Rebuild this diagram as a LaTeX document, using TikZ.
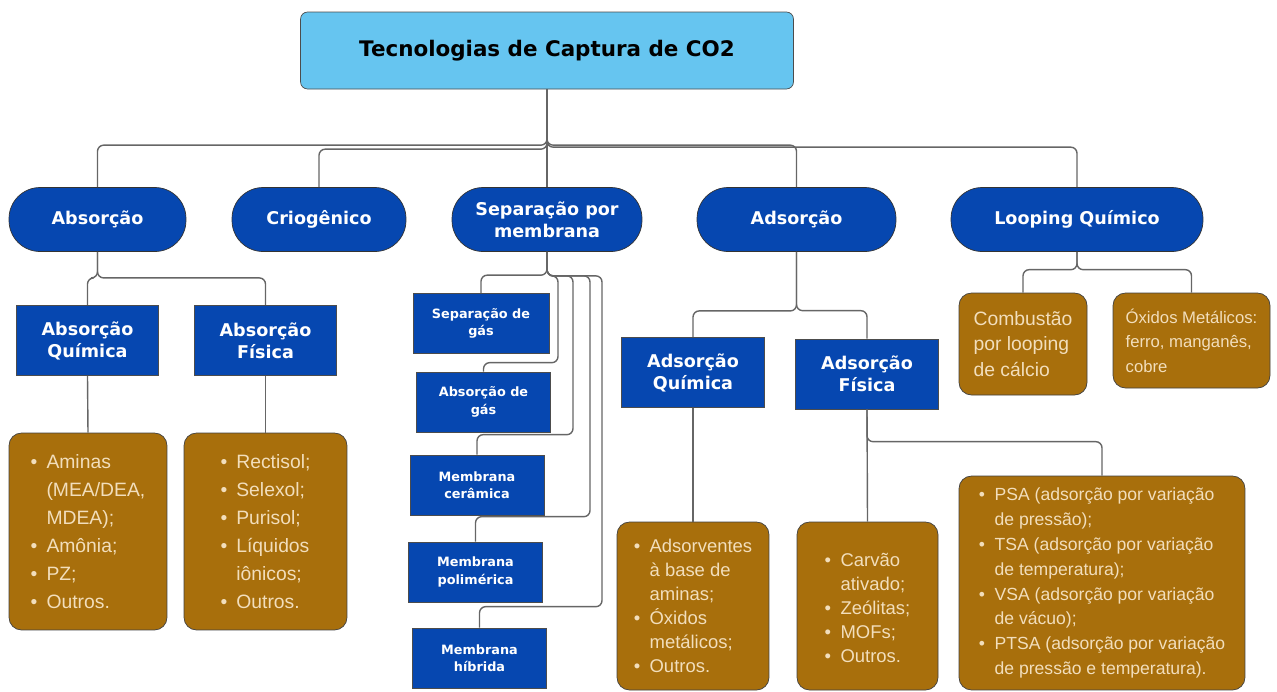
\documentclass[tikz,border=0pt]{standalone}
\usepackage{fontspec}
\setmainfont{Liberation Sans}
\newfontfamily\headfont{DejaVu Sans}
\usepackage{tikz}
\usetikzlibrary{calc}

\definecolor{titlecol}{RGB}{102,197,240}
\definecolor{bluecol}{RGB}{6,71,176}
\definecolor{leafcol}{RGB}{168,111,12}
\definecolor{leaftxt}{RGB}{242,222,188}

\newcommand{\bl}{\makebox[9pt][l]{\textbullet}}
\newcommand{\nb}{\hspace*{9pt}}

\begin{document}
\begin{tikzpicture}[
x=0.02cm, y=-0.02cm,
title/.style={draw=black!70, fill=titlecol, rounded corners=4pt, minimum width=98.6mm, minimum height=15.4mm, font=\headfont\bfseries\fontsize{12.2}{14}\selectfont},
pill/.style={draw=black!80, fill=bluecol, text=white, rounded corners=6.2mm, minimum height=12.8mm, align=center, font=\headfont\bfseries\fontsize{10}{12.5}\selectfont},
sub/.style={draw=black!70, fill=bluecol, text=white, minimum width=28.5mm, minimum height=14.1mm, align=center, font=\headfont\bfseries\fontsize{10}{12.5}\selectfont},
membox/.style={draw=black!70, fill=bluecol, text=white, minimum width=26.8mm, minimum height=12mm, align=center, font=\headfont\bfseries\fontsize{7.3}{10}\selectfont},
leaf/.style={draw=black!75, fill=leafcol, text=leaftxt, rounded corners=2.5mm, align=left, inner sep=0pt},
conn/.style={draw=black!60, line width=0.8pt, rounded corners=3.5pt}
]
\useasboundingbox (0,0) rectangle (1277,691);

% top
\node[title] (title) at (547,50.5) {Tecnologias de Captura de CO2};

% first level
\node[pill, minimum width=35.4mm] (abs) at (97.5,219.5) {Absorção};
\node[pill, minimum width=34.8mm] (crio) at (319,219.5) {Criogênico};
\node[pill, minimum width=38mm] (memb) at (547,219.5) {Separação por\\membrana};
\node[pill, minimum width=39.8mm] (ads) at (796.5,219.5) {Adsorção};
\node[pill, minimum width=50.4mm] (loop) at (1077,219.5) {Looping Químico};

\draw[conn] (title.south) |- ($(abs.north)+(0,-42)$) -- (abs.north);
\draw[conn] (title.south) |- ($(crio.north)+(0,-38)$) -- (crio.north);
\draw[conn] (title.south) -- (memb.north);
\draw[conn] (title.south) |- ($(ads.north)+(0,-42)$) -- (ads.north);
\draw[conn] (title.south) |- ($(loop.north)+(0,-40)$) -- (loop.north);

% absorcao
\node[sub] (absq) at (87.5,340.5) {Absorção\\Química};
\node[sub] (absf) at (265.5,340.5) {Absorção\\Física};
\node[leaf, minimum width=31.6mm, minimum height=39.4mm, font=\fontsize{11}{16}\selectfont] (leafq) at (88,531.5)
  {\bl Aminas\\\nb(MEA/DEA,\\\nb MDEA);\\\bl Amônia;\\\bl PZ;\\\bl Outros.};
\node[leaf, minimum width=32.6mm, minimum height=39.4mm, font=\fontsize{11}{16}\selectfont] (leaff) at (265.5,531.5)
  {\bl Rectisol;\\\bl Selexol;\\\bl Purisol;\\\bl Líquidos\\\nb iônicos;\\\bl Outros.};

\draw[conn] (abs.south) |- ($(absq.north)+(0,-27)$) -- (absq.north);
\draw[conn] (abs.south) |- ($(absf.north)+(0,-27)$) -- (absf.north);
\draw[conn] (absq.south) -- (leafq.north);
\draw[conn] (absf.south) -- (leaff.north);

% membranas
\node[membox, minimum width=27.2mm] (sepg) at (481,323.5) {Separação de\\gás};
\node[membox] (absg) at (483.5,402) {Absorção de\\gás};
\node[membox] (cer) at (477,485) {Membrana\\cerâmica};
\node[membox] (pol) at (475.5,572) {Membrana\\polimérica};
\node[membox] (hib) at (479.5,658) {Membrana\\híbrida};

\draw[conn] (memb.south) |- ($(sepg.north)+(0,-18)$) -- (sepg.north);
\draw[conn] (memb.south) |- ($(memb.south)+(11,24)$) |- ($(absg.north)+(0,-9)$) -- (absg.north);
\draw[conn] (memb.south) |- ($(memb.south)+(26,24)$) |- ($(cer.north)+(0,-20)$) -- (cer.north);
\draw[conn] (memb.south) |- ($(memb.south)+(43,24)$) |- ($(pol.north)+(0,-25)$) -- (pol.north);
\draw[conn] (memb.south) |- ($(memb.south)+(55,24)$) |- ($(hib.north)+(0,-21)$) -- (hib.north);

% adsorcao
\node[sub] (adsq) at (693,372.5) {Adsorção\\Química};
\node[sub, minimum height=14mm] (adsf) at (867,374) {Adsorção\\Física};
\node[leaf, minimum width=30.4mm, minimum height=33.6mm, font=\fontsize{10.5}{13.6}\selectfont] (leafaq) at (693,606)
  {\bl Adsorventes\\\nb à base de\\\nb aminas;\\\bl Óxidos\\\nb metálicos;\\\bl Outros.};
\node[leaf, minimum width=28.2mm, minimum height=33.6mm, font=\fontsize{10.5}{13.6}\selectfont] (leafaf) at (867.5,606)
  {\\[-4pt]\bl Carvão\\\nb ativado;\\\bl Zeólitas;\\\bl MOFs;\\\bl Outros.};
\node[leaf, minimum width=57.2mm, minimum height=42.8mm, font=\fontsize{10}{14.2}\selectfont] (psa) at (1102,583)
  {\bl PSA (adsorção por variação\\\nb de pressão);\\\bl TSA (adsorção por variação\\\nb de temperatura);\\\bl VSA (adsorção por variação\\\nb de vácuo);\\\bl PTSA (adsorção por variação\\\nb de pressão e temperatura).};

\draw[conn] (ads.south) |- ($(adsq.north)+(0,-26)$) -- (adsq.north);
\draw[conn] (ads.south) |- ($(adsf.north)+(0,-28)$) -- (adsf.north);
\draw[conn] (adsq.south) -- (leafaq.north);
\draw[conn] (adsf.south) -- (leafaf.north);
\draw[conn] (adsf.south) |- ($(psa.north)+(0,-34)$) -- (psa.north);

% looping
\node[leaf, minimum width=25.6mm, minimum height=20.4mm, font=\fontsize{11}{14.7}\selectfont] (comb) at (1023,344)
  {Combustão\\por looping\\de cálcio};
\node[leaf, minimum width=31.4mm, minimum height=19mm, font=\fontsize{9.5}{14}\selectfont] (oxid) at (1191.5,340.5)
  {Óxidos Metálicos:\\ferro, manganês,\\cobre};

\draw[conn] (loop.south) |- ($(comb.north)+(0,-23)$) -- (comb.north);
\draw[conn] (loop.south) |- ($(oxid.north)+(0,-23)$) -- (oxid.north);
\end{tikzpicture}
\end{document}
